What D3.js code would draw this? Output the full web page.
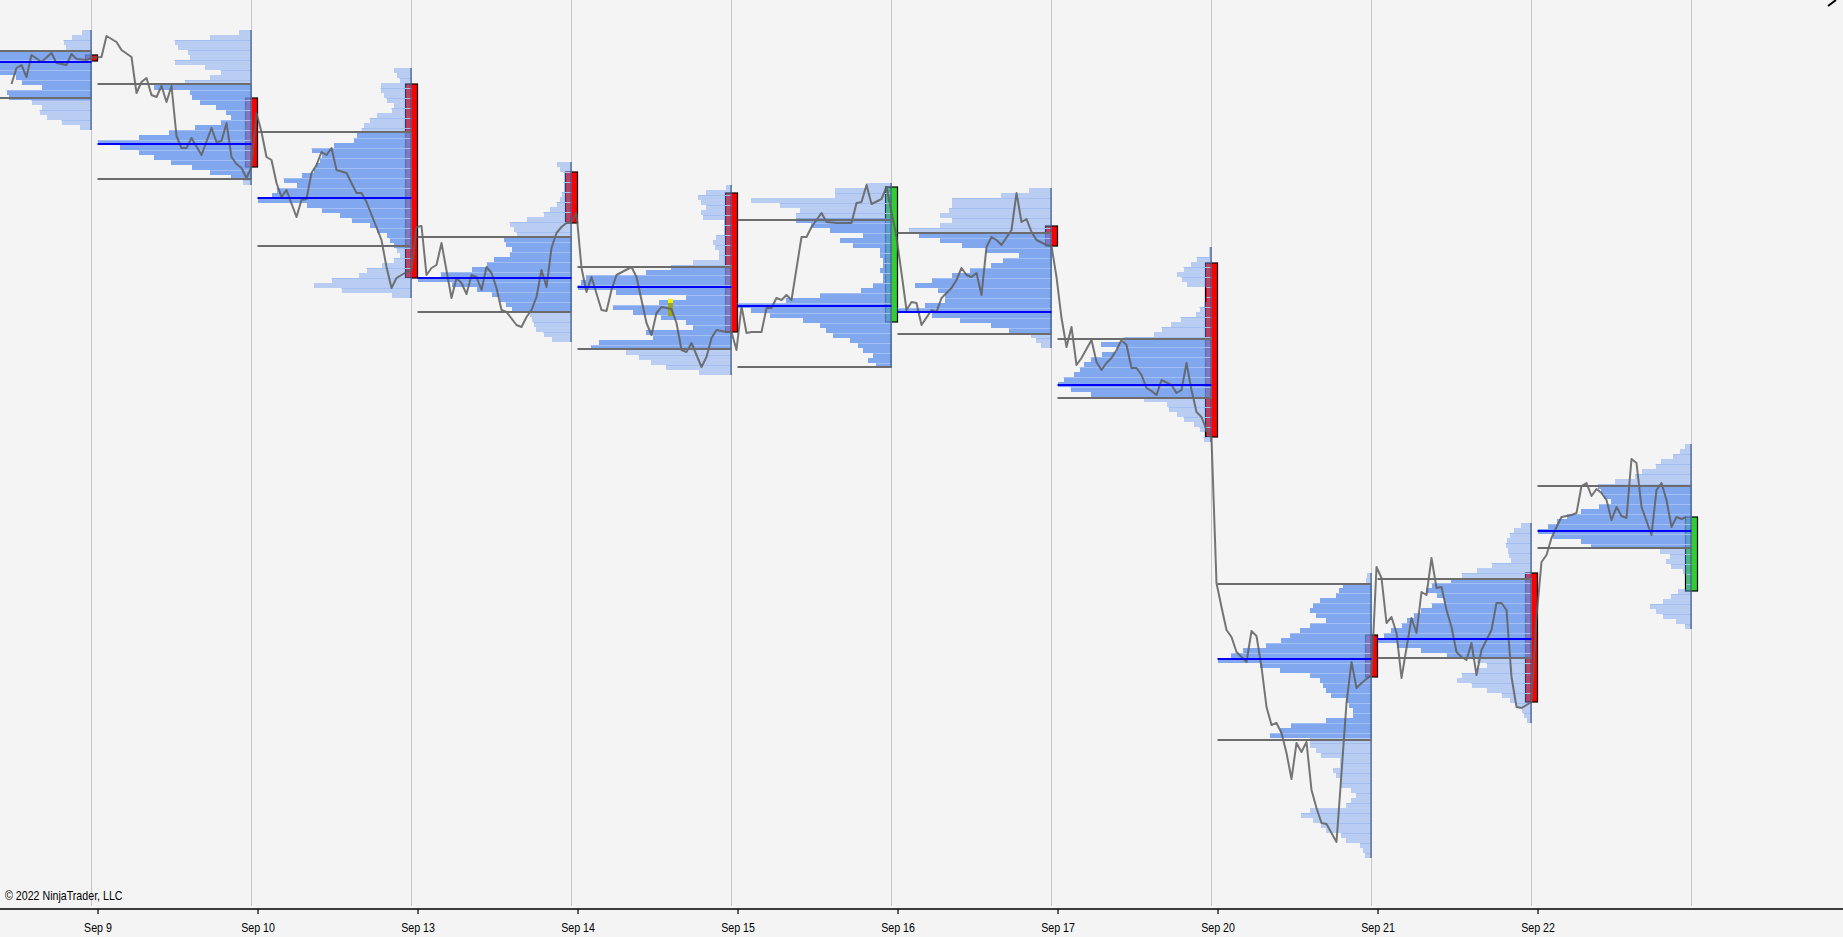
<!DOCTYPE html>
<html>
<head>
<meta charset="utf-8">
<script src="https://cdn.jsdelivr.net/npm/d3@7"></script>
<style>
  html, body { margin: 0; padding: 0; background: #f4f4f4; }
  svg { display: block; }
  .lbl { font-family: "Liberation Sans", Arial, sans-serif; font-size: 13px; }
</style>
</head>
<body>
<svg id="chart" width="1843" height="937"></svg>
<script>
// dates shown under the session boundaries
const dateLabels = ["Sep 9", "Sep 10", "Sep 13", "Sep 14", "Sep 15", "Sep 16", "Sep 17", "Sep 20", "Sep 21", "Sep 22"];

// volume profile: price of the top row, then volume per 1.25 pt row going down
const profTop = [4537.5, 4537.5, 4528, 4504.5, 4498.75, 4499.25, 4498, 4483.25, 4401.75, 4414.25, 4434];
const prof0 = [10,20,28,26,110,130,154,120,95,76,70,50,85,83,60,50,52,45,30,12];
const prof1 = [12,40,75,72,62,60,75,45,30,40,65,95,60,58,50,35,25,20,30,55,80,110,150,128,110,95,78,58,40,20,8];
const prof2 = [18,15,12,31,31,28,25,18,20,35,42,48,50,55,58,78,100,90,92,96,98,110,128,115,135,140,154,105,90,72,60,42,35,25,22,18,15,12,18,30,45,53,80,98,70,20];
const prof3 = [15,12,8,8,8,8,10,12,15,22,28,45,62,58,55,68,66,60,62,78,85,100,131,154,120,95,80,72,66,60,42,40,38,36,28,20];
const prof4 = [5,25,33,30,25,30,28,7,7,7,15,18,16,12,12,38,60,85,145,150,153,115,45,72,118,98,70,45,38,85,78,132,140,105,92,80,65,32];
const prof5 = [25,56,56,140,111,91,95,95,80,61,28,51,38,11,11,8,8,11,8,8,18,30,71,105,153,140,121,88,71,65,58,41,33,28,18,23,15];
const prof6 = [22,50,98,98,101,110,98,110,141,131,110,88,65,32,48,60,80,98,118,135,112,105,105,125,152,118,90,60,42,20,15,10];
const prof7 = [3,3,15,21,28,35,30,25,5,5,5,8,12,16,31,41,50,58,88,111,95,110,121,128,132,138,148,154,141,121,68,45,43,35,28,18,12,5,8];
const prof8 = [4,5,28,32,35,51,58,61,55,45,61,71,81,90,105,128,140,153,111,91,61,51,48,45,40,25,22,18,18,45,80,91,101,61,61,55,50,31,31,38,35,31,31,20,15,20,25,61,70,58,50,45,30,25,11,8,6];
const prof9 = [11,18,22,25,26,24,23,21,40,55,70,81,100,106,95,88,100,111,118,125,130,141,148,154,135,111,85,55,45,55,70,75,60,45,30,22,15,10,8,5];
const prof10 = [6,11,18,30,35,48,55,75,91,88,85,78,90,108,121,131,140,150,135,108,98,31,21,25,20,8,5,5,5,13,20,28,40,35,28,15,6];

// value area high / point of control / value area low per session
const vah = [4532.25, 4524, 4512, 4485.75, 4478.25, 4490, 4486.75, 4460.25, 4399, 4400.25, 4423.5];
const poc = [4529.5, 4509, 4495.5, 4475.5, 4473.25, 4468.5, 4467, 4448.75, 4380.25, 4385.25, 4412.25];
const val = [4520.5, 4500.25, 4483.5, 4467, 4457.75, 4453.25, 4461.5, 4445.5, 4360, 4380.5, 4408];

// candle body at the end of each session
const candleOpen = [4531.25, 4520.5, 4524, 4502, 4496.75, 4464.5, 4488.5, 4479.25, 4386.25, 4401.75, 4397.25];
const candleClose = [4529.75, 4503.25, 4475.5, 4489.25, 4462, 4498.25, 4483.5, 4435.75, 4375.75, 4369.5, 4415.75];

// price line: [bar in session, price]
const line0 = [[16,4524],[17,4528],[18,4528.75],[19,4525.75],[20,4531.25],[22,4529.5],[24,4531.75],[25,4529.25],[27,4528.75],[28,4531.5],[29,4530.25],[31,4530]];
const line1 = [[0,4530.5],[2,4530.75],[3,4536],[5,4534.5],[6,4532.5],[8,4530.75],[9,4521.75],[10,4524.5],[11,4525.5],[12,4521.25],[13,4520.75],[14,4523.5],[15,4519.5],[16,4523.5],[17,4511],[18,4508],[19,4508],[20,4510.5],[22,4506.25],[24,4513],[25,4509.5],[26,4509.75],[27,4514.25],[28,4505.75],[29,4504],[30,4503],[31,4500.5]];
const line2 = [[0,4503.25],[1,4516.75],[2,4512],[3,4505.75],[4,4505],[5,4499.25],[6,4495.75],[7,4497.5],[9,4490.75],[10,4495],[11,4495.25],[12,4501.75],[13,4503.75],[14,4507],[15,4506.25],[16,4508],[17,4502.5],[19,4501.75],[20,4499.25],[21,4496.75],[22,4496.75],[23,4494.5],[26,4485],[27,4478.25],[28,4473],[29,4475.5],[31,4477]];
const line3 = [[0,4477.5],[1,4488.25],[2,4488.5],[3,4476.25],[4,4478],[5,4478.75],[6,4484.25],[8,4470.5],[9,4475.5],[10,4474.25],[11,4471.5],[12,4476.25],[13,4475.75],[14,4472.5],[15,4478.25],[16,4476.75],[17,4473],[18,4467.5],[19,4467],[21,4463.75],[22,4463.25],[23,4465.75],[24,4467.5],[25,4470.75],[26,4477.5],[27,4473.25],[28,4483],[29,4486.75],[30,4488.25],[31,4489.25]];
const line4 = [[0,4489.5],[1,4491.75],[2,4478],[3,4472],[4,4475.75],[6,4467.5],[7,4467.25],[8,4472.5],[9,4476.25],[12,4478.25],[13,4475.75],[14,4470],[15,4464.25],[16,4461.25],[17,4466.75],[18,4468.25],[20,4467.75],[21,4464.25],[22,4457.5],[23,4457],[24,4459.25],[26,4453.25],[27,4455.75],[28,4460.5],[29,4462.5],[30,4462.25],[31,4462]];
const line5 = [[0,4462],[1,4457.5],[2,4468.5],[3,4461.75],[4,4462],[6,4462],[7,4468],[8,4468],[9,4470.5],[10,4470],[11,4471.25],[12,4470],[14,4485.75],[15,4485.75],[16,4488.25],[17,4490],[18,4491.75],[19,4489.5],[21,4489.25],[22,4489.25],[24,4489.25],[25,4494.25],[26,4494.5],[27,4498.75],[28,4494],[30,4495.25],[31,4498.25]];
const line6 = [[1,4485.75],[2,4476.75],[3,4467.5],[4,4469.5],[5,4469.25],[6,4463.75],[8,4467.5],[9,4467],[10,4470.5],[12,4473],[13,4475],[14,4478],[15,4476.25],[16,4475.75],[17,4476.75],[18,4471.25],[19,4483.25],[20,4485.75],[21,4485],[22,4483.75],[24,4487.5],[25,4496.75],[26,4489.5],[27,4490.25],[28,4487],[29,4485],[31,4483.75]];
const line7 = [[0,4483.5],[1,4475.75],[2,4465.5],[3,4458.25],[4,4463.25],[5,4453.75],[6,4455.5],[8,4460],[9,4454.5],[10,4452.5],[11,4454.25],[12,4455.5],[13,4457.5],[14,4460],[15,4458.75],[16,4453],[17,4453],[18,4451.25],[19,4448],[20,4447.25],[21,4446.25],[22,4450],[24,4448.75],[25,4446.75],[26,4447.5],[27,4454.25],[28,4447.5],[29,4442],[30,4440.75],[31,4437.5]];
const line8 = [[0,4435.5],[1,4399.25],[2,4393.25],[3,4387.5],[4,4385.75],[5,4382],[7,4379.5],[8,4387.25],[9,4386],[10,4378.25],[11,4368.25],[12,4363.75],[13,4364.25],[14,4361.75],[15,4356.75],[16,4350.25],[17,4359.25],[18,4357],[19,4359.5],[20,4347.5],[21,4343],[22,4339.25],[23,4339],[25,4334.5],[26,4351.75],[27,4369.25],[28,4379.5],[29,4373],[30,4374.25]];
const line9 = [[0,4376.25],[1,4403.25],[2,4400.5],[3,4389.25],[4,4390.75],[5,4386.75],[6,4375.5],[8,4390.5],[9,4386.75],[10,4397],[11,4396.25],[12,4405.5],[13,4398],[14,4398.25],[15,4392.5],[16,4388.25],[17,4382],[18,4380.75],[19,4380],[20,4384.25],[21,4376.25],[22,4382.5],[24,4387.5],[25,4394.25],[26,4394.25],[27,4392.5],[28,4375.75],[29,4368.25],[30,4368],[31,4368.75]];
const line10 = [[0,4369.5],[1,4390.75],[2,4404.5],[3,4406.25],[4,4410.5],[5,4413.25],[6,4415.75],[8,4416.25],[9,4416.75],[10,4423.5],[11,4424.25],[12,4421],[13,4422.75],[14,4421.75],[15,4420],[16,4415],[17,4418.25],[18,4416],[19,4415.5],[20,4430.25],[21,4429.25],[22,4418.25],[24,4411.25],[25,4422.5],[26,4424.25],[27,4420],[28,4413.25],[29,4415.75],[30,4415.25],[31,4415.75]];

// yellow marker: [session, bar, high, low]
const markers = [[4, 19.3, 4470.25, 4466]];

const profiles = [prof0, prof1, prof2, prof3, prof4, prof5, prof6, prof7, prof8, prof9, prof10];
const lines = [line0, line1, line2, line3, line4, line5, line6, line7, line8, line9, line10];

const W = 1843, H = 937;
const barsPerSession = 32;
const rowStep = 1.25;
const profileWidth = 154;
const tickShift = 6;
const axisY = 909;
const narrow = 0.82; // condensed chart font

const svg = d3.select("#chart");
const x = d3.scaleLinear().domain([0, barsPerSession * 11]).range([-68.5, 1691.5]);
const y = d3.scaleLinear().domain([4320, 4545]).range([900, 0]);

svg.append("rect").attr("width", W).attr("height", H).attr("fill", "#f4f4f4");

// session grid lines
svg.append("g").selectAll("line")
  .data(d3.range(1, 12))
  .enter().append("line")
  .attr("x1", k => x(k * barsPerSession)).attr("x2", k => x(k * barsPerSession))
  .attr("y1", 0).attr("y2", axisY - 3)
  .attr("stroke", "#c6c6c6").attr("stroke-width", 1);

// candles (under the profiles)
const candles = svg.append("g");
candleOpen.forEach((o, s) => {
  const c = candleClose[s];
  const cx = x((s + 1) * barsPerSession);
  candles.append("rect")
    .attr("x", cx - 6).attr("width", 12)
    .attr("y", y(Math.max(o, c))).attr("height", Math.max(1, y(Math.min(o, c)) - y(Math.max(o, c))))
    .attr("fill", c >= o ? "#32cd32" : "#ff0000")
    .attr("stroke", "#000").attr("stroke-width", 1.2);
});

// volume profiles
const profG = svg.append("g");
profiles.forEach((vols, s) => {
  const right = x((s + 1) * barsPerSession);
  const w = d3.scaleLinear().domain([0, d3.max(vols)]).range([0, profileWidth]);
  const rows = vols.map((v, k) => {
    const pTop = profTop[s] - k * rowStep;
    const mid = pTop - rowStep / 2;
    return { k, v, pTop, inVA: mid <= vah[s] && mid >= val[s] };
  });
  const g = profG.append("g");
  g.selectAll("rect").data(rows).enter().append("rect")
    .attr("x", d => right - w(d.v))
    .attr("width", d => w(d.v))
    .attr("y", d => y(d.pTop))
    .attr("height", d => y(d.pTop - rowStep) - y(d.pTop))
    .attr("fill", d => d.inVA ? "rgba(100,149,237,0.8)" : "rgba(100,149,237,0.42)")
    .attr("shape-rendering", "crispEdges");
  g.selectAll("line.stripe").data(rows.filter(d => d.k > 0 && d.k % 2 === 0)).enter().append("line")
    .attr("class", "stripe")
    .attr("x1", d => right - w(d.v)).attr("x2", right)
    .attr("y1", d => Math.round(y(d.pTop)) + 0.5).attr("y2", d => Math.round(y(d.pTop)) + 0.5)
    .attr("stroke", "#a3bff2").attr("stroke-width", 1);
  g.append("line")
    .attr("x1", right - 0.5).attr("x2", right - 0.5)
    .attr("y1", y(profTop[s])).attr("y2", y(profTop[s] - vols.length * rowStep))
    .attr("stroke", "#3c4d72").attr("stroke-width", 1);
});

// markers
markers.forEach(m => {
  const mx = x(m[0] * barsPerSession + m[1]);
  svg.append("rect").attr("x", mx).attr("width", 5)
    .attr("y", y(m[2])).attr("height", y(m[3]) - y(m[2]))
    .attr("fill", "#9aa71e");
  svg.append("rect").attr("x", mx).attr("width", 5)
    .attr("y", y(m[2])).attr("height", 4)
    .attr("fill", "#f0f000");
});

// price line
const pts = [];
lines.forEach((ln, s) => ln.forEach(d => pts.push([s * barsPerSession + d[0], d[1]])));
svg.append("path")
  .datum(pts)
  .attr("d", d3.line().x(d => x(d[0])).y(d => y(d[1])))
  .attr("fill", "none")
  .attr("stroke", "#5e5e5e").attr("stroke-opacity", 0.85)
  .attr("stroke-width", 2).attr("stroke-linejoin", "round");

// value area and POC lines
const lv = svg.append("g");
vah.forEach((h, s) => {
  const x0 = x(s * barsPerSession) + tickShift, x1 = x((s + 1) * barsPerSession);
  [[h, "#6c6c6c"], [val[s], "#6c6c6c"], [poc[s], "#0000ff"]].forEach(([p, col]) => {
    lv.append("line")
      .attr("x1", x0).attr("x2", x1)
      .attr("y1", y(p)).attr("y2", y(p))
      .attr("stroke", col).attr("stroke-width", 2);
  });
});

// time axis
const axis = d3.axisBottom(x)
  .tickValues(d3.range(1, 11).map(k => k * barsPerSession))
  .tickFormat((d, i) => dateLabels[i])
  .tickSize(5).tickPadding(9);
const ax = svg.append("g").attr("transform", `translate(${tickShift},${axisY})`).call(axis);
ax.select(".domain").remove();
ax.selectAll(".tick line").attr("stroke", "#000").attr("stroke-width", 1.2);
ax.selectAll(".tick text").attr("class", "lbl").attr("fill", "#000")
  .attr("transform", `scale(${narrow},1)`);
svg.append("line").attr("x1", 0).attr("x2", W).attr("y1", axisY).attr("y2", axisY)
  .attr("stroke", "#000").attr("stroke-width", 1.5);

svg.append("text").attr("class", "lbl")
  .attr("transform", `translate(5,900) scale(${narrow},1)`)
  .attr("fill", "#000")
  .text("\u00a9 2022 NinjaTrader, LLC");

// small arrow in the top right corner
svg.append("line").attr("x1", 1828).attr("y1", 6).attr("x2", 1836).attr("y2", 0)
  .attr("stroke", "#000").attr("stroke-width", 2);
</script>
</body>
</html>
